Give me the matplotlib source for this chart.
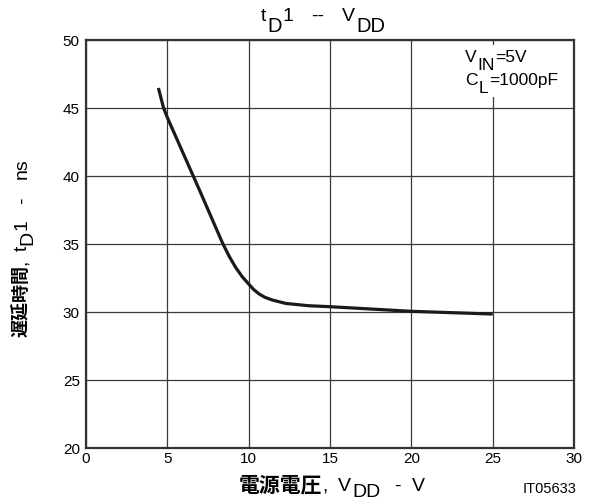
import matplotlib
matplotlib.use("Agg")
import matplotlib.pyplot as plt

# ---- data ----
vdd = [4.45, 4.76, 5.0, 6.0, 7.0, 7.8, 8.4, 8.8, 9.2, 9.6, 10.0, 10.3, 10.65, 11.0, 11.46, 12.28, 13.7, 15.0, 20.0, 25.0]
td1 = [46.47, 45.04, 44.3, 41.6, 38.9, 36.7, 35.05, 34.1, 33.28, 32.6, 32.06, 31.66, 31.32, 31.08, 30.88, 30.63, 30.46, 30.39, 30.05, 29.85]
xticks = [0, 5, 10, 15, 20, 25, 30]
yticks = [20, 25, 30, 35, 40, 45, 50]

W, H = 594, 503
LAT = ['Liberation Sans', 'DejaVu Sans']
CJK = ['Noto Sans CJK JP', 'DejaVu Sans']

fig = plt.figure(figsize=(W / 100, H / 100), dpi=100)
ax = fig.add_axes([86 / W, 1 - 448 / H, (574 - 86) / W, (448 - 40) / H])
ax.set_xlim(0, 30)
ax.set_ylim(20, 50)
ax.set_xticks(xticks)
ax.set_yticks(yticks)
ax.tick_params(length=0, labelsize=11)
ax.tick_params(axis='x', pad=3)
ax.tick_params(axis='y', pad=4.5)
for lab in ax.get_xticklabels() + ax.get_yticklabels():
    lab.set_family(LAT)
ax.grid(True, color='#3a3a3a', linewidth=0.9)
ax.set_axisbelow(True)
for s in ax.spines.values():
    s.set_linewidth(1.6)
    s.set_color('#333333')

ax.plot(vdd, td1, color='#1a1a1a', linewidth=2.3, solid_capstyle='butt',
        solid_joinstyle='round', zorder=3)

# white background box behind the condition text
bx0, bx1, by0, by1 = 459, 572, 45, 97
fig.patches.append(plt.Rectangle((bx0 / W, 1 - by1 / H), (bx1 - bx0) / W, (by1 - by0) / H,
                                 transform=fig.transFigure, facecolor='white',
                                 edgecolor='none', zorder=2))

renderer = fig.canvas.get_renderer()


def chain(x_px, y_px, pieces, ha='left', rotate=False):
    # pieces: (text, size, family, weight, dy_px, gap_px)
    made = []
    for s, size, fam, wt, dy, gap in pieces:
        t = fig.text(0, 0, s, fontsize=size, family=fam, weight=wt,
                     ha='left', va='baseline', rotation=90 if rotate else 0,
                     rotation_mode='anchor', zorder=5)
        made.append((t, dy, gap))
    sizes = []
    for t, dy, gap in made:
        bb = t.get_window_extent(renderer)
        sizes.append(bb.height if rotate else bb.width)
    total = sum(sizes) + sum(g for _, _, g in made)
    if rotate:
        cur = y_px + total / 2 if ha == 'center' else y_px
    else:
        cur = x_px - total / 2 if ha == 'center' else x_px
    for (t, dy, gap), sz in zip(made, sizes):
        if rotate:
            cur -= gap
            t.set_position(((x_px + dy) / W, 1 - cur / H))
            cur -= sz
        else:
            cur += gap
            t.set_position((cur / W, 1 - (y_px + dy) / H))
            cur += sz


# title
chain(323, 21, [('t', 14, LAT, 'normal', 0, 0),
                ('D', 14.5, LAT, 'normal', 11, 1),
                ('1', 14, LAT, 'normal', 0, 1),
                ('--', 14, LAT, 'normal', 0, 17),
                ('V', 14, LAT, 'normal', 0, 18),
                ('DD', 14.5, LAT, 'normal', 11, 1)], ha='center')

# condition text
chain(465, 62, [('V', 12.5, LAT, 'normal', 0, 0),
                ('IN', 12.5, LAT, 'normal', 8, 1),
                ('=5V', 12.5, LAT, 'normal', 0, 0)])
chain(465, 85, [('C', 12.5, LAT, 'normal', 0, 0),
                ('L', 12.5, LAT, 'normal', 8, 1),
                ('=1000pF', 12.5, LAT, 'normal', 0, 1)])

# x label
chain(332, 491, [('電源電圧', 15, CJK, 'bold', 0, 0),
                 (',', 14, LAT, 'normal', 0, 0),
                 ('V', 14, LAT, 'normal', 0, 10),
                 ('DD', 14, LAT, 'normal', 6, 1),
                 ('-', 14, LAT, 'normal', 0, 14),
                 ('V', 14, LAT, 'normal', 0, 11)], ha='center')

# y label (rotated)
chain(27, 248, [('遅延時間', 13, CJK, 'bold', 0, 0),
                (',', 14, LAT, 'normal', 0, 0),
                ('t', 14, LAT, 'normal', 0, 9),
                ('D', 14, LAT, 'normal', 5, 1),
                ('1', 14, LAT, 'normal', 0, 1),
                ('-', 14, LAT, 'normal', 0, 15),
                ('ns', 14, LAT, 'normal', 0, 18)], ha='center', rotate=True)

fig.text(577 / W, 1 - 493 / H, 'IT05633', fontsize=10.5, family=LAT,
         ha='right', va='baseline')

fig.savefig('out.png', dpi=100, facecolor='white')
